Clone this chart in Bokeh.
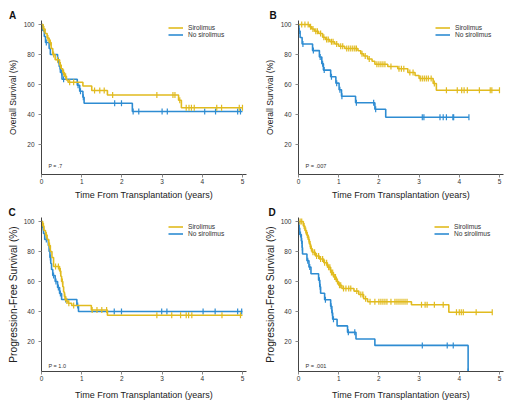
import numpy as np
from bokeh.plotting import figure
from bokeh.models import Legend, LegendItem, Label, Title
from bokeh.layouts import gridplot
from bokeh.embed import file_html
from bokeh.resources import INLINE

# ---------------- data ----------------
x_ticks = [0, 1, 2, 3, 4, 5]
y_ticks = [20, 40, 60, 80, 100]
series_names = ["Sirolimus", "No sirolimus"]

# Panel A: overall survival
A_sir_t = [0, 0.04, 0.09, 0.14, 0.19, 0.24, 0.28, 0.34, 0.45, 0.49, 0.53, 0.57, 0.62, 0.66, 1.03, 1.25, 1.64, 3.41, 3.48]
A_sir_s = [100, 97, 94, 91, 88, 84, 80, 76.5, 73, 70.5, 68, 65.5, 63, 61.5, 59, 56, 53, 49.5, 44.5]
A_sir_c = [0.06, 0.16, 0.22, 0.3, 0.4, 0.47, 0.55, 0.6, 0.7, 0.8, 1.32, 1.45, 1.56, 1.77, 2.87, 3.27, 3.32, 3.44, 3.6, 3.67, 3.73, 3.8, 4.36, 4.48, 4.92, 5.0]
A_sir_end = 5.0
A_no_t = [0, 0.03, 0.07, 0.1, 0.19, 0.22, 0.4, 0.44, 0.47, 0.51, 0.89, 0.95, 1.03, 1.06, 2.26]
A_no_s = [100, 96, 92, 88, 84, 80, 76, 72, 68, 63.5, 59.5, 55.5, 51.5, 47.5, 42]
A_no_c = [0.12, 0.42, 0.46, 0.5, 0.55, 0.91, 0.97, 1.04, 1.82, 1.99, 2.28, 2.42, 3.0, 3.13, 4.06, 4.33, 4.88, 4.95]
A_no_end = 5.0

# Panel B: overall survival
B_sir_t = [0, 0.27, 0.33, 0.4, 0.5, 0.6, 0.67, 0.78, 0.9, 1.0, 1.15, 1.48, 1.55, 1.62, 1.72, 1.83, 1.9, 2.22, 2.47, 2.72, 2.9, 3.0, 3.35, 3.43]
B_sir_s = [100, 98.5, 97, 95.5, 94, 91.5, 90, 88.5, 87, 85.5, 84, 82.5, 80.5, 79, 77, 75.5, 73.5, 72, 70.5, 68, 66, 64, 60.7, 56.2]
B_sir_c = [0.08, 0.16, 0.24, 0.3, 0.36, 0.43, 0.47, 0.55, 0.63, 0.7, 0.74, 0.82, 0.86, 0.95, 1.05, 1.1, 1.2, 1.25, 1.3, 1.35, 1.4, 1.44, 1.58, 1.66, 1.76, 1.95, 2.0, 2.05, 2.1, 2.15, 2.3, 2.5, 2.56, 2.62, 2.77, 2.85, 3.03, 3.08, 3.13, 3.18, 3.23, 3.3, 3.38, 3.68, 3.95, 4.06, 4.12, 4.2, 4.5, 4.77, 4.81, 5.0]
B_sir_end = 5.0
B_no_t = [0, 0.01, 0.04, 0.09, 0.35, 0.52, 0.58, 0.62, 0.8, 0.93, 1.01, 1.07, 1.42, 1.9, 2.17]
B_no_s = [100, 95.7, 91.3, 87, 82.6, 78.3, 73.9, 69.6, 65.2, 60.9, 56.5, 52.2, 47.8, 43.5, 38.2]
B_no_c = [0.02, 0.11, 0.37, 0.54, 0.6, 0.64, 0.82, 0.95, 1.03, 1.08, 1.44, 1.87, 1.92, 3.08, 3.12, 3.52, 3.6, 3.68, 3.84, 3.86, 4.24]
B_no_end = 4.24

# Panel C: progression-free survival
C_sir_t = [0, 0.03, 0.06, 0.1, 0.14, 0.18, 0.22, 0.26, 0.3, 0.45, 0.48, 0.5, 0.53, 0.55, 0.57, 0.6, 0.66, 0.75, 1.24, 1.64]
C_sir_s = [100, 97, 94, 91, 88, 84, 80, 76, 70, 67, 63.5, 60, 56.5, 53, 50, 47, 45.5, 44, 41, 37.5]
C_sir_c = [0.05, 0.12, 0.2, 0.35, 0.42, 0.47, 0.52, 0.58, 0.63, 0.68, 0.8, 1.26, 1.38, 1.5, 1.62, 2.87, 3.24, 3.46, 3.6, 3.66, 3.74, 4.49, 4.95]
C_sir_end = 5.0
C_no_t = [0, 0.02, 0.05, 0.08, 0.17, 0.19, 0.21, 0.23, 0.25, 0.28, 0.34, 0.4, 0.45, 0.5, 0.88, 0.92]
C_no_s = [100, 96, 92, 88, 84, 80, 76, 72, 68, 64, 60, 56, 52, 48, 44, 40]
C_no_c = [0.04, 0.12, 0.22, 0.3, 0.36, 0.42, 0.47, 0.6, 0.9, 1.81, 1.99, 2.99, 3.12, 4.02, 4.32, 4.88, 4.98]
C_no_end = 5.0

# Panel D: progression-free survival
D_sir_t = [0, 0.12, 0.16, 0.2, 0.24, 0.27, 0.3, 0.34, 0.42, 0.52, 0.63, 0.72, 0.8, 0.87, 0.94, 1.0, 1.08, 1.38, 1.5, 1.62, 1.72, 2.81, 3.74]
D_sir_s = [100, 97, 94, 91, 88, 85, 82, 79.5, 77, 75, 72.5, 69.5, 66, 63, 60, 57.5, 55.3, 53.6, 51.3, 48.5, 46.5, 44.5, 39.5]
D_sir_c = [0.04, 0.08, 0.14, 0.18, 0.22, 0.26, 0.29, 0.32, 0.36, 0.4, 0.45, 0.5, 0.55, 0.6, 0.65, 0.7, 0.75, 0.78, 0.82, 0.85, 0.9, 0.92, 0.97, 1.02, 1.05, 1.12, 1.18, 1.25, 1.3, 1.45, 1.55, 1.6, 1.67, 1.78, 1.9, 2.0, 2.05, 2.1, 2.15, 2.2, 2.3, 2.4, 2.45, 2.5, 2.55, 2.6, 2.65, 2.7, 3.06, 3.15, 3.2, 3.38, 3.6, 3.93, 4.0, 4.05, 4.1, 4.42, 4.82]
D_sir_end = 4.82
D_no_t = [0, 0.01, 0.03, 0.07, 0.09, 0.1, 0.21, 0.26, 0.31, 0.5, 0.53, 0.55, 0.65, 0.8, 0.83, 0.85, 0.96, 1.22, 1.43, 1.9, 4.22]
D_no_s = [100, 95.7, 91.3, 87, 82.6, 78.3, 73.9, 69.6, 65.2, 60.9, 56.5, 52.2, 47.8, 43.5, 39.1, 34.8, 30.4, 26.1, 21.7, 17.4, 0]
D_no_c = [0.02, 0.05, 0.08, 0.095, 0.23, 0.28, 0.52, 0.54, 0.67, 0.81, 0.84, 0.87, 1.24, 1.4, 3.08, 3.7, 3.85, 4.22]
D_no_end = 4.22

# ---------------- style ----------------
GOLD = "#E1BB1F"
BLUE = "#2E8CD2"
SANS = "Liberation Sans"
AX = "#444444"
TXT = "#333333"


def step_xy(t, s, end):
    return list(t) + [end], list(s) + [s[-1]]


def level_at(t, s, c):
    idx = np.searchsorted(np.asarray(t), np.asarray(c), side="right") - 1
    return np.asarray(s)[idx]


def make_panel(letter, ylabel, pval, sir, no, border, ytop, ylab_size, ylab_standoff,
               xlab_standoff, legend_loc, pval_size, pval_off, letter_off):
    left, right, top, bottom = border
    p = figure(width=257, height=203, x_range=(0, 5.1), y_range=(0, ytop),
               output_backend="svg", toolbar_location=None,
               min_border_left=left, min_border_right=right,
               min_border_top=top, min_border_bottom=bottom)
    p.outline_line_color = None
    p.grid.visible = False

    p.title = Title(text=letter, align="left", offset=letter_off, standoff=0,
                    text_font=SANS, text_font_style="bold", text_font_size="10px",
                    text_color="#111111")

    p.xaxis.ticker = x_ticks
    p.yaxis.ticker = y_ticks
    p.axis.minor_tick_line_color = None
    p.axis.axis_line_color = AX
    p.axis.axis_line_width = 1
    p.axis.major_tick_line_color = "#888888"
    p.axis.major_tick_in = 0
    p.axis.major_tick_out = 3
    p.axis.major_label_text_font = SANS
    p.axis.major_label_text_font_size = "6.5px"
    p.axis.major_label_text_color = TXT
    p.xaxis.major_label_standoff = 1
    p.yaxis.major_label_standoff = 4
    p.axis.axis_label_text_font = SANS
    p.axis.axis_label_text_font_style = "normal"
    p.axis.axis_label_text_color = "#222222"
    p.xaxis.axis_label = "Time From Transplantation (years)"
    p.xaxis.axis_label_text_font_size = "9px"
    p.xaxis.axis_label_standoff = xlab_standoff
    p.yaxis.axis_label = ylabel
    p.yaxis.axis_label_text_font_size = ylab_size
    p.yaxis.axis_label_standoff = ylab_standoff

    renderers = []
    for (t, s, c, end), color in ((no, BLUE), (sir, GOLD)):
        xs, ys = step_xy(t, s, end)
        r = p.step(xs, ys, mode="after", line_color=color, line_width=1.6)
        p.scatter(c, level_at(t, s, c), marker="dash", angle=np.pi / 2, size=6,
                  line_color=color, line_width=1.2)
        renderers.append(r)
    r_no, r_sir = renderers

    legend = Legend(items=[LegendItem(label=series_names[0], renderers=[r_sir]),
                           LegendItem(label=series_names[1], renderers=[r_no])],
                    location=legend_loc, margin=0, padding=0, spacing=0,
                    glyph_width=15, glyph_height=7, label_height=7, label_standoff=5,
                    label_text_font=SANS, label_text_font_size="6.6px",
                    label_text_color=TXT, background_fill_alpha=0,
                    border_line_color=None)
    p.add_layout(legend)

    p.add_layout(Label(x=0, y=0, x_offset=pval_off[0], y_offset=pval_off[1], text=pval,
                       text_font=SANS, text_font_size=pval_size, text_color=TXT,
                       text_align="left", text_baseline="middle"))
    return p


pA = make_panel("A", "Overall Survival (%)", "P = .7",
                (A_sir_t, A_sir_s, A_sir_c, A_sir_end), (A_no_t, A_no_s, A_no_c, A_no_end),
                (41, 11, 20, 29), 102.67, "8.5px", 3, 3, (127, 136), "5.2px", (7, 8.3), -32.6)
pB = make_panel("B", "Overall Survival (%)", "P = .007",
                (B_sir_t, B_sir_s, B_sir_c, B_sir_end), (B_no_t, B_no_s, B_no_c, B_no_end),
                (41, 11, 20, 29), 102.67, "8.5px", 3, 3, (137, 136), "5.6px", (7, 8.6), -29)
pC = make_panel("C", "Progression-Free Survival (%)", "P = 1.0",
                (C_sir_t, C_sir_s, C_sir_c, C_sir_end), (C_no_t, C_no_s, C_no_c, C_no_end),
                (41, 11, 14, 35), 102.67, "10.2px", 2, 6, (127, 134), "5.5px", (7, 5.4), -33)
pD = make_panel("D", "Progression-Free Survival (%)", "P = .001",
                (D_sir_t, D_sir_s, D_sir_c, D_sir_end), (D_no_t, D_no_s, D_no_c, D_no_end),
                (41, 11, 14, 35), 102.67, "10.2px", 2, 6, (136, 134), "5.6px", (7, 5.4), -30)

grid = gridplot([[pA, pB], [pC, pD]], toolbar_location=None)

with open("out.html", "w") as f:
    f.write(file_html(grid, INLINE))
